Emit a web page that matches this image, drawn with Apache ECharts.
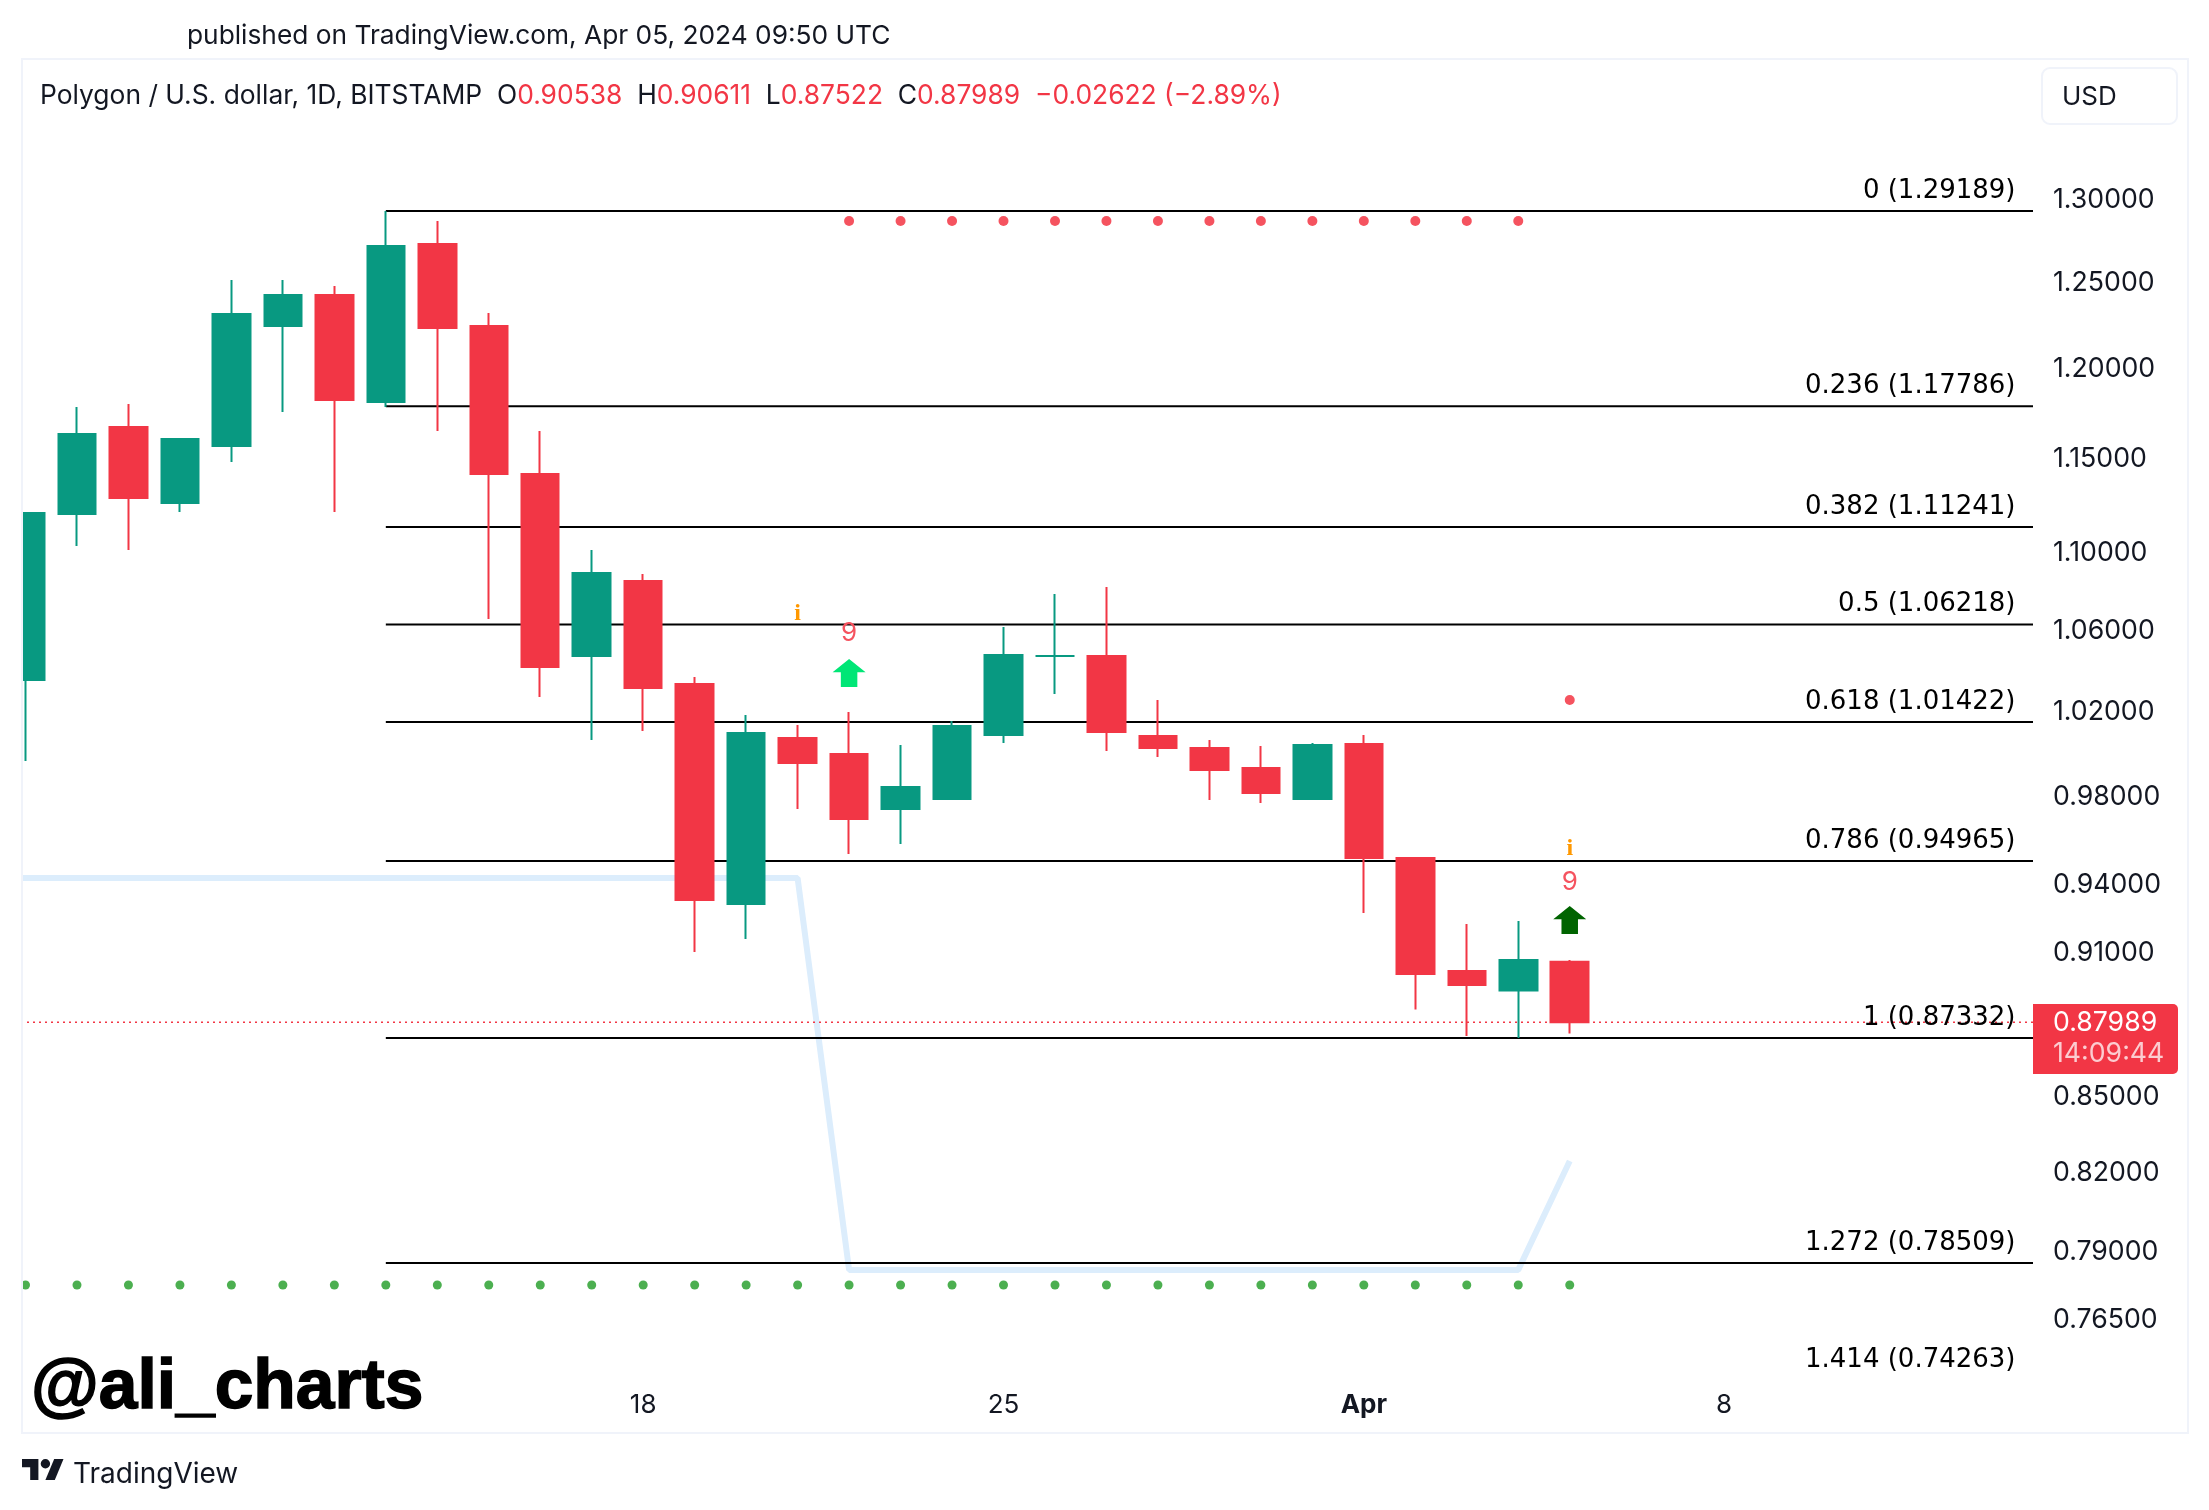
<!DOCTYPE html>
<html>
<head>
<meta charset="utf-8">
<script src="https://cdn.jsdelivr.net/npm/echarts@6/dist/echarts.min.js"></script>
<style>
  html, body { margin: 0; padding: 0; background: #fff; }
  #chart { width: 2209px; height: 1510px; }
</style>
</head>
<body>
<div id="chart"></div>
<script>
// daily candles, Mar 6 to Apr 5
var opens  = [1.03465,1.11923,1.16631,1.12507,1.15584,1.22342,1.24152,1.18018,1.27187,1.22342,1.14062,1.04646,1.08428,1.03269,0.93051,1.00661,0.99902,0.97334,0.97796,1.00805,1.04640,1.04646,1.00757,1.00186,0.99243,0.97796,1.00376,0.95100,0.90148,0.89319,0.90538];
var closes = [1.11976,1.16243,1.12774,1.15969,1.23040,1.24152,1.18131,1.27066,1.22227,1.14062,1.04102,1.08840,1.03073,0.93228,1.00900,0.99478,0.96874,0.98353,1.01236,1.04695,1.04646,1.00948,1.00186,0.99149,0.98074,1.00329,0.95100,0.90020,0.89552,0.90619,0.87989];
var lows   = [0.99571,1.10240,1.10032,1.12029,1.14713,1.17461,1.12029,1.17741,1.16408,1.06496,1.02636,1.00567,1.00996,0.90962,0.91523,0.97334,0.95281,0.95733,0.97796,1.00424,1.02782,1.00044,0.99761,0.97750,0.97611,0.97796,0.92656,0.88519,0.87415,0.87332,0.87522];
var highs  = [1.11976,1.17741,1.17907,1.15969,1.25037,1.25037,1.24682,1.29189,1.28580,1.23098,1.16408,1.10032,1.08789,1.03611,1.01764,1.01284,1.01909,1.00329,1.01475,1.06092,1.07764,1.08121,1.02490,1.00567,1.00281,1.00424,1.00805,0.95100,0.92175,0.92306,0.90611];

// light blue stop line, first value is just off the left edge
var stopDays   = [-1,0,1,2,3,4,5,6,7,8,9,10,11,12,13,14,15,16,17,18,19,20,21,22,23,24,25,26,27,28,29,30];
var stopValues = [0.9420,0.9420,0.9420,0.9420,0.9420,0.9420,0.9420,0.9420,0.9420,0.9420,0.9420,0.9420,0.9420,0.9420,0.9420,0.9420,0.9420,0.7825,0.7825,0.7825,0.7825,0.7825,0.7825,0.7825,0.7825,0.7825,0.7825,0.7825,0.7825,0.7825,0.7825,0.8239];

// dots
var redDotDays   = [16,17,18,19,20,21,22,23,24,25,26,27,28,29,30];
var redDotValues = [1.2858,1.2858,1.2858,1.2858,1.2858,1.2858,1.2858,1.2858,1.2858,1.2858,1.2858,1.2858,1.2858,1.2858,1.0249];
var greenDotDays   = [0,1,2,3,4,5,6,7,8,9,10,11,12,13,14,15,16,17,18,19,20,21,22,23,24,25,26,27,28,29,30];
var greenDotValues = [0.7769,0.7769,0.7769,0.7769,0.7769,0.7769,0.7769,0.7769,0.7769,0.7769,0.7769,0.7769,0.7769,0.7769,0.7769,0.7769,0.7769,0.7769,0.7769,0.7769,0.7769,0.7769,0.7769,0.7769,0.7769,0.7769,0.7769,0.7769,0.7769,0.7769,0.7769];

// fib levels
var fibLevels = ['0','0.236','0.382','0.5','0.618','0.786','1','1.272','1.414'];
var fibPrices = [1.29189,1.17786,1.11241,1.06218,1.01422,0.94965,0.87332,0.78509,0.74263];
var fibStartDay = 7;

// signals
var arrowDays = [16,30];
var arrowValues = [1.03803,0.92350];
var arrowColors = ['#00e676','#006400'];
var nineDays = [16,30];
var nineValues = [1.05840,0.94075];
var infoDays = [15,30];
var infoValues = [1.06798,0.95565];

// axis labels
var priceTicks = [1.30,1.25,1.20,1.15,1.10,1.06,1.02,0.98,0.94,0.91,0.85,0.82,0.79,0.765];
var dayTicks = [12,19,26,33];
var dayTickLabels = ['18','25','{b|Apr}','8'];

var lastPrice = 0.87989;
var legendOHLC = ['0.90538','0.90611','0.87522','0.87989'];
var legendChange = '\u22120.02622 (\u22122.89%)';

var xMin = -0.0875, xMax = 39.0;
var red = '#f23645', green = '#089981';
var font = 'Inter';

var candleData = opens.map(function (o, i) {
    return [i, o, closes[i], lows[i], highs[i]];
});

function pairs(xs, ys) {
    return xs.map(function (x, i) { return [x, ys[i]]; });
}

var series = [];

series.push({
    type: 'line', z: 1, showSymbol: false, silent: true,
    data: pairs(stopDays, stopValues),
    lineStyle: { color: '#dcedfc', width: 6 }
});

// fib lines, the last one falls under the pane and gets clipped
fibPrices.forEach(function (p) {
    series.push({
        type: 'line', z: 2, showSymbol: false, silent: true,
        data: [[fibStartDay, p], [xMax, p]],
        lineStyle: { color: '#000', width: 2 }
    });
});

series.push({
    type: 'line', z: 2, showSymbol: false, silent: true,
    data: [[xMin, lastPrice], [xMax, lastPrice]],
    lineStyle: { color: red, width: 1.5, type: [2, 4] }
});

series.push({
    type: 'candlestick', z: 3,
    barWidth: 38,
    encode: { x: 0, y: [1, 2, 3, 4] },
    data: candleData,
    itemStyle: { color: green, color0: red, borderColor: green, borderColor0: red, borderWidth: 2 }
});

series.push({
    type: 'scatter', z: 4, symbolSize: 10,
    data: pairs(redDotDays, redDotValues),
    itemStyle: { color: '#f5535f', opacity: 1 }
});
series.push({
    type: 'scatter', z: 4, symbolSize: 9,
    data: pairs(greenDotDays, greenDotValues),
    itemStyle: { color: '#4caf50', opacity: 1 }
});

arrowDays.forEach(function (d, i) {
    series.push({
        type: 'scatter', z: 4,
        symbol: 'path://M8 0L16 9H12V19H4V9H0Z',
        symbolSize: [33, 28],
        data: [[d, arrowValues[i]]],
        itemStyle: { color: arrowColors[i], opacity: 1 }
    });
});

function textSeries(data, labelOpt, clip) {
    return {
        type: 'scatter', z: 5, symbolSize: 1, clip: clip,
        data: data,
        itemStyle: { color: 'transparent', opacity: 1 },
        label: labelOpt
    };
}

series.push(textSeries(pairs(nineDays, nineValues), {
    show: true, position: 'inside', offset: [0, 1], formatter: '9', fontFamily: font, fontSize: 26, color: '#f5535f'
}, true));
series.push(textSeries(pairs(infoDays, infoValues), {
    show: true, position: 'inside', offset: [0, 1], formatter: 'i', fontFamily: 'Liberation Serif', fontWeight: 'bold', fontSize: 24, color: '#ff9800'
}, true));

// fib labels sit above their level
var fibLabelDay = 38.67;
series.push(textSeries(fibPrices.map(function (p, i) {
    return { value: [fibLabelDay, p], name: fibLevels[i] };
}), {
    show: true, position: 'left', distance: 0, offset: [0, -20],
    formatter: function (p) {
        return p.name + ' (' + fibPrices[p.dataIndex].toFixed(5) + ')';
    },
    fontFamily: 'DejaVu Sans', fontSize: 26, color: '#000'
}, false));

var option = {
    animation: false,
    backgroundColor: '#fff',
    grid: { left: 21, top: 59, width: 2012, height: 1319 },
    xAxis: {
        type: 'value', min: xMin, max: xMax,
        splitLine: { show: false }, axisLine: { show: false }, axisTick: { show: false },
        axisLabel: {
            customValues: dayTicks, margin: 14, fontFamily: font, fontSize: 26, color: '#131722',
            formatter: function (v) { return dayTickLabels[dayTicks.indexOf(v)]; },
            rich: { b: { fontFamily: font, fontSize: 26, fontWeight: 'bold', color: '#131722' } }
        }
    },
    yAxis: {
        type: 'log', position: 'right', min: 0.74345, max: 1.38829,
        splitLine: { show: false }, axisLine: { show: false }, axisTick: { show: false },
        minorTick: { show: false }, minorSplitLine: { show: false },
        axisLabel: {
            customValues: priceTicks, margin: 20, verticalAlign: 'top', lineHeight: 4, fontFamily: font, fontSize: 26.7, color: '#131722',
            formatter: function (v) { return Number(v).toFixed(5); }
        }
    },
    series: series,
    graphic: [
        // left margin mask, candlestick clip only drops whole boxes
        { type: 'rect', z: 50, shape: { x: 0, y: 59, width: 21, height: 1374 }, style: { fill: '#fff' } },
        { type: 'rect', z: 51, shape: { x: 22, y: 59, width: 2166, height: 1374 }, style: { fill: 'none', stroke: '#f0f3fa', lineWidth: 2 } },
        { type: 'text', style: { x: 187, y: 36, text: 'published on TradingView.com, Apr 05, 2024 09:50 UTC', font: '26.3px ' + font, fill: '#131722', verticalAlign: 'middle' } },
        { type: 'text', style: {
            x: 40, y: 96, verticalAlign: 'middle', font: '26.4px ' + font, fill: '#131722',
            text: 'Polygon / U.S. dollar, 1D, BITSTAMP  O{r|' + legendOHLC[0] + '}  H{r|' + legendOHLC[1] + '}  L{r|' + legendOHLC[2] + '}  C{r|' + legendOHLC[3] + '}  {r|' + legendChange + '}',
            rich: { r: { fill: red, font: '26.4px ' + font } }
        } },
        { type: 'rect', shape: { x: 2042, y: 68, width: 135, height: 56, r: 8 }, style: { fill: '#fff', stroke: '#f0f3fa', lineWidth: 2 } },
        { type: 'text', style: { x: 2062, y: 97, text: 'USD', font: '26px ' + font, fill: '#131722', verticalAlign: 'middle' } },
        { type: 'rect', z: 60, shape: { x: 2033, y: 1004, width: 145, height: 70, r: [0, 5, 5, 0] }, style: { fill: red } },
        { type: 'text', z: 61, style: { x: 2053, y: 1023, text: lastPrice.toFixed(5), font: '26.7px ' + font, fill: '#fff', verticalAlign: 'middle' } },
        { type: 'text', z: 61, style: { x: 2053, y: 1054, text: '14:09:44', font: '26.7px ' + font, fill: 'rgba(255,255,255,0.75)', verticalAlign: 'middle' } },
        { type: 'text', z: 61, style: { x: 31, y: 1389, text: '@ali_charts', font: 'bold 69.5px "Liberation Sans"', fill: '#000', stroke: '#000', lineWidth: 1.5, verticalAlign: 'middle' } },
        // tradingview logo
        { type: 'polygon', shape: { points: [[22, 1459], [38.4, 1459], [38.4, 1480], [30.2, 1480], [30.2, 1467.2], [22, 1467.2]] }, style: { fill: '#131722' } },
        { type: 'circle', shape: { cx: 45.4, cy: 1463.7, r: 4.7 }, style: { fill: '#131722' } },
        { type: 'polygon', shape: { points: [[54.8, 1480], [45.4, 1480], [54.2, 1459], [63.5, 1459]] }, style: { fill: '#131722' } },
        { type: 'text', style: { x: 73, y: 1475, text: 'TradingView', font: '28px ' + font, fill: '#131722', verticalAlign: 'middle' } }
    ]
};

var myChart = echarts.init(document.getElementById('chart'));
myChart.setOption(option);
</script>
</body>
</html>
